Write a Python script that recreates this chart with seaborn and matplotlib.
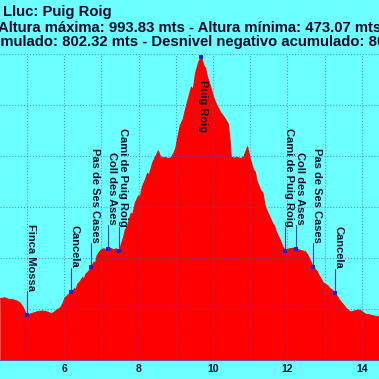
import numpy as np
import pandas as pd
import matplotlib
matplotlib.use("Agg")
import matplotlib.pyplot as plt
import seaborn as sns

# elevation profile (km, m)
dist_km = [4.28, 4.40, 4.50, 4.63, 4.72, 4.81, 4.88, 4.95, 5.00, 5.08, 5.17, 5.30, 5.42,
           5.55, 5.65, 5.72, 5.80, 5.89, 5.96, 6.02, 6.10, 6.19, 6.28, 6.31, 6.36, 6.43,
           6.50, 6.53, 6.58, 6.66, 6.73, 6.80, 6.84, 6.88, 6.97, 7.05, 7.12, 7.18, 7.25,
           7.33, 7.40, 7.48, 7.55, 7.60, 7.64, 7.70, 7.72, 7.80, 7.84, 7.91, 8.00, 8.04,
           8.10, 8.18, 8.24, 8.28, 8.38, 8.45, 8.50, 8.53, 8.58, 8.64, 8.72, 8.80, 8.88,
           8.95, 9.00, 9.05, 9.12, 9.20, 9.25, 9.31, 9.42, 9.47, 9.53, 9.62, 9.69, 9.75,
           9.80, 9.85, 9.92, 10.01, 10.10, 10.20, 10.30, 10.41, 10.46, 10.49, 10.55,
           10.65, 10.75, 10.83, 10.93, 11.00, 11.09, 11.14, 11.18, 11.28, 11.34, 11.41,
           11.50, 11.60, 11.66, 11.70, 11.81, 11.88, 11.95, 12.05, 12.15, 12.24, 12.35,
           12.49, 12.55, 12.60, 12.70, 12.80, 12.85, 12.90, 12.97, 13.10, 13.15, 13.20,
           13.29, 13.40, 13.51, 13.60, 13.70, 13.80, 13.90, 13.97, 14.10, 14.24, 14.35,
           14.48]
elev_m = [520, 522, 519, 518, 516, 512, 505, 494, 488, 490, 492, 495, 496,
          494, 491, 493, 498, 502, 510, 522, 527, 533, 540, 537, 548, 554,
          562, 558, 568, 574, 582, 592, 589, 604, 614, 618, 617, 618, 619,
          616, 618, 614, 630, 642, 655, 662, 668, 688, 684, 708, 722, 718,
          740, 753, 766, 762, 787, 798, 805, 810, 800, 796, 797, 795, 797,
          806, 815, 835, 860, 872, 888, 905, 935, 930, 962, 985, 993.83, 978,
          972, 955, 940, 916, 900, 886, 876, 863, 830, 798, 796,
          797, 795, 798, 818, 795, 773, 768, 752, 733, 728, 700,
          685, 669, 662, 652, 635, 622, 614, 618, 619, 618, 615,
          612, 606, 598, 582, 574, 566, 560, 551, 545, 540, 538,
          531, 518, 508, 500, 494, 496, 498, 497, 490, 488, 486,
          484]

wp_names = ["Finca Mossa", "Cancela", "Pas de Ses Cases", "Coll des Ases", "Cami de Puig Roig",
            "Puig Roig", "Cami de Puig Roig", "Coll des Ases", "Pas de Ses Cases", "Cancela"]
wp_km = [5.00, 6.19, 6.73, 7.18, 7.48, 9.69, 11.95, 12.24, 12.70, 13.29]
wp_elev = [488, 533, 582, 618, 614, 993.83, 614, 618, 582, 531]

title1 = "Lluc: Puig Roig"
title2 = "Altura máxima: 993.83 mts - Altura mínima: 473.07 mts"
title3 = "Desnivel positivo acumulado: 802.32 mts - Desnivel negativo acumulado: 802.32 mts"

bg = "#6cffff"
sns.set_theme(style="white")
plt.rcParams['font.family'] = ['Liberation Sans', 'DejaVu Sans']
plt.rcParams['font.weight'] = 'bold'

df = pd.DataFrame({"km": dist_km, "elev": elev_m})
wp = pd.DataFrame({"km": wp_km, "elev": wp_elev, "name": wp_names})

fig = plt.figure(figsize=(3.79, 3.79), dpi=100, facecolor=bg)
ax = fig.add_axes([0, 19/379, 1, 306/379])
ax.set_facecolor(bg)

ax.fill_between(df["km"], df["elev"], 400, color="#ff0000", lw=0, zorder=1)
sns.lineplot(data=df, x="km", y="elev", color="#ff0000", lw=0.8, ax=ax, zorder=1.5)

# connectors + markers
for _, r in wp.iterrows():
    if r["name"] == "Puig Roig":
        continue
    ax.plot([r["km"], r["km"]], [r["elev"], r["elev"] + 47], color="#2a48c8", lw=0.8, zorder=3)
sns.scatterplot(data=wp, x="km", y="elev", color="#1a20e0", marker="s", s=8,
                linewidth=0, ax=ax, zorder=4)

for _, r in wp.iterrows():
    if r["name"] == "Puig Roig":
        ax.annotate(r["name"], (r["km"], r["elev"]), xytext=(2, -23), textcoords="offset pixels",
                    rotation=270, ha="center", va="top", fontsize=8, fontweight="bold",
                    color="#101028", zorder=5)
    else:
        ax.annotate(r["name"], (r["km"], r["elev"]), xytext=(3.5, 24), textcoords="offset pixels",
                    rotation=270, ha="center", va="bottom", fontsize=8, fontweight="bold",
                    color="#101028", zorder=5)

ax.set_xlim(4.271, 14.465)
ax.set_ylim(400, 1000)
ax.xaxis.set_major_locator(matplotlib.ticker.MultipleLocator(2))
ax.xaxis.set_minor_locator(matplotlib.ticker.MultipleLocator(1))
ax.yaxis.set_major_locator(matplotlib.ticker.MultipleLocator(100))
ax.set_axisbelow(False)
ax.grid(True, which="both", color="#3a58c0", alpha=0.6, ls=":", lw=0.8)
ax.tick_params(axis="x", which="both", length=0, pad=3, labelsize=7.5, labelcolor="#101028")
ax.tick_params(axis="y", length=0, labelleft=False)
ax.set_xlabel("")
ax.set_ylabel("")
for s in ["top", "left", "right"]:
    ax.spines[s].set_visible(False)
ax.spines["bottom"].set_color("#7050a0")
ax.spines["bottom"].set_linewidth(0.8)

for lbl in ax.get_xticklabels():
    lbl.set_fontweight("bold")

fig.text(3/379, 1 - 12/379, title1, ha="left", va="center", fontsize=10.7,
         fontweight="bold", color="#0a0a28")
fig.text(0.5, 1 - 28/379, title2, ha="center", va="center", fontsize=10.7,
         fontweight="bold", color="#0a0a28")
# third line runs past both edges; place it so "mulado" starts at the left edge
r = fig.canvas.get_renderer()
probe = fig.text(0, 0, "Desnivel positivo acu", fontsize=10.7, fontweight="bold")
pre_w = probe.get_window_extent(renderer=r).width
probe.remove()
fig.text(-pre_w / 379, 1 - 42/379, title3, ha="left", va="center", fontsize=10.7,
         fontweight="bold", color="#0a0a28")

fig.savefig("out.png", dpi=100, facecolor=bg)
